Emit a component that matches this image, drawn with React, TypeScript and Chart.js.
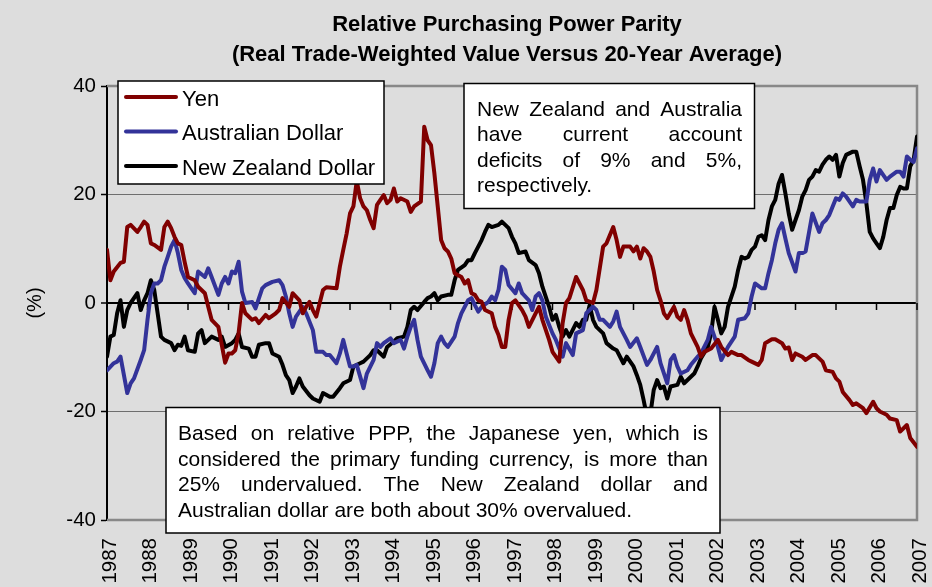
import React, { useEffect, useRef } from 'react';
import { Chart, registerables } from 'chart.js';

Chart.register(...registerables);

// ---------------- DATA ----------------
const START_YEAR = 1987;
const END_YEAR = 2007;
const Y_MIN = -40;
const Y_MAX = 40;
const Y_STEP = 20;

const seriesNames = ['Yen', 'Australian Dollar', 'New Zealand Dollar'];

// months since January 1987
const yenMonths = [0,1,2,4,5,6,7,9,10,11,12,13,14,16,17,18,19,20,21,22,23,24,26,27,29,30,31,33,35,36,37,38,39,40,41,43,44,45,47,48,50,51,52,54,55,57,58,59,60,61,62,64,65,68,69,70,71,72,73,74,75,76,77,78,79,80,81,82,83,84,85,86,87,89,90,91,93,94,95,96,97,98,99,100,101,102,103,105,106,107,108,109,110,111,112,114,115,116,117,118,119,120,121,123,124,125,127,128,129,131,132,134,135,136,137,139,141,142,144,145,147,148,150,151,152,153,155,156,157,158,159,160,161,162,163,164,165,166,168,169,170,171,172,173,175,176,177,179,181,182,184,185,187,188,190,191,193,194,195,197,198,200,201,202,203,204,206,207,209,210,212,213,215,216,217,218,220,221,222,224,225,227,228,229,231,232,234,235,237,238,240];
const yenValues = [9.8,4.2,5.8,7.4,7.6,14,14.4,13.1,14,15,14.4,11,10.7,9.8,14,15,13.8,12.2,11,10.7,7.6,4.8,4.2,3,1.8,-0.7,-3.1,-4.4,-11,-9.3,-9.3,-8.7,-5.5,0,-1.9,-3.1,-2.8,-3.7,-2.2,-2.8,-1.9,-1.3,0.9,-0.7,1.8,0.5,-1.9,-0.7,0.2,-1.3,-2.5,2.4,2.9,2.7,6.7,9.8,12.8,16.5,17.8,22.5,19.3,17.8,17.1,15.3,13.8,18.1,19,19.9,18.4,19,21.1,18.7,19.3,18.7,16.8,17.8,18.7,32.5,30,29.1,23.9,17.8,11.6,10.1,9.5,8.2,5.5,4.8,3.6,4.2,1.8,1.5,0.5,0.2,-1.3,-1.9,-4.4,-5.9,-8.1,-8.1,-3.1,0,0.5,-1.3,-2.5,-4.4,-1.9,-0.7,-3.1,-6.8,-9,-10.8,-3.7,0,0.9,4.8,2.4,0.5,0,2.4,10.4,11,14,11.6,8.5,10.4,10.4,9.5,10.4,8.2,10.1,9.5,8.5,5.8,2.4,0.5,-1.9,-2.8,-0.7,-2.5,-3.1,-1.3,-3.1,-5.6,-8.1,-9.9,-9,-8.4,-6.8,-8.1,-9.6,-9,-9.6,-9.6,-10.5,-10.8,-11.4,-10.5,-7.4,-6.7,-6.7,-7.4,-8.4,-8.2,-10.5,-9.3,-9.9,-10.5,-9.6,-9.6,-10.8,-12.4,-12.7,-13.9,-14.5,-16.4,-17.9,-18.8,-18.5,-19.4,-20.3,-18.2,-19.4,-20,-20.6,-21.3,-21.6,-23.7,-22.5,-24.9,-26.5];

const audMonths = [0,2,3,4,6,7,8,10,11,12,13,14,15,16,17,18,19,20,21,22,23,24,25,26,27,29,30,31,33,34,35,36,37,38,39,40,41,43,44,46,47,49,51,52,53,54,55,56,58,59,61,62,64,65,66,68,69,70,71,72,73,74,76,77,79,80,81,82,84,85,87,88,89,90,91,92,93,95,96,97,98,99,100,101,103,104,105,107,108,109,110,111,113,114,115,116,117,118,119,121,122,123,125,126,127,128,129,130,132,133,135,136,138,139,141,142,144,145,146,147,149,150,151,152,154,155,157,158,160,161,163,164,166,167,168,169,170,172,173,175,176,178,179,181,182,184,186,187,189,190,191,192,194,195,196,197,198,199,200,201,202,204,205,206,207,209,211,212,213,214,216,217,218,219,221,222,223,225,226,227,228,229,231,232,234,235,236,237,238,239,240];
const audValues = [-12.4,-11.1,-10.8,-9.9,-16.6,-14.8,-13.9,-10.5,-8.7,-3.1,1.8,3.6,3.6,4.2,6.7,8.5,10.4,11.6,9.2,6.1,4.6,3.6,2.7,1.8,5.8,4.8,6.4,4.8,1.5,3.6,4.8,3.6,5.8,5.5,7.6,2.1,0,0.2,-1,2.7,3.3,3.9,4.2,3.3,1.2,-1.9,-4.4,-2.5,-0.7,-1.9,-5,-9,-9,-9.6,-9.6,-11.1,-9.3,-6.8,-9.3,-11.7,-11.7,-11.4,-15.7,-13,-10.5,-7.4,-8.1,-7.4,-6.5,-7.4,-6.8,-8.4,-6.2,-4.4,-3.1,-6.8,-9.9,-12.4,-13.6,-11.1,-7.4,-6.2,-7.4,-8.1,-6.2,-3.7,-1.9,0.5,0.9,-0.4,-1.6,-0.7,0.2,1.2,0.5,2.4,6.7,6.1,3.3,1.8,3.6,1.8,0.5,-1.3,1.2,1.8,0.5,-2.5,-5.6,-6.8,-9.9,-7.4,-9.6,-5.6,-5,-1.9,-0.7,-1.3,-3.1,-3.1,-4.4,-3.4,-1.6,-4.4,-6.8,-8.1,-6.5,-8.1,-11.4,-10.5,-8.1,-11.1,-14.8,-10.5,-9.6,-11.7,-13,-12.4,-11.4,-9.9,-9.3,-6.8,-4.4,-8.1,-10.5,-8.1,-6.2,-3.1,-2.8,-1.9,1.2,3.6,2.7,2.7,5.5,7.9,11,13.5,14.7,11.9,9.2,5.8,9.2,9.2,9.5,16.5,13.1,14.7,15.3,16.2,19.3,19,20.2,19.6,17.8,19,18.7,18.7,22.7,24.8,22.4,24.5,22.7,23.3,24.2,24.2,23.3,27,26.4,26,28.5];

const nzdMonths = [0,1,2,3,4,5,6,7,9,10,11,12,13,14,15,16,17,19,20,21,22,23,24,26,27,28,29,30,31,33,34,35,37,38,39,40,42,43,44,45,47,48,49,51,52,53,54,55,56,57,58,60,61,63,64,66,67,69,70,72,73,75,76,78,79,80,82,83,85,86,88,89,90,91,92,94,95,96,97,98,99,101,102,103,104,106,107,108,109,110,111,112,113,114,116,117,119,120,121,122,124,125,127,128,129,131,132,133,134,135,136,137,139,140,141,142,143,144,145,147,148,150,151,153,154,156,157,158,159,160,161,162,163,164,165,166,167,169,170,171,172,174,175,176,178,179,180,181,182,183,184,186,187,188,189,190,191,192,193,194,195,196,197,198,199,200,201,202,203,204,205,206,207,208,209,210,211,212,213,214,215,216,217,218,219,221,222,223,224,225,226,227,228,229,230,231,232,233,234,235,236,237,238,239,240];
const nzdValues = [-9.9,-6.2,-5.9,-1.9,0.5,-4.4,-1.3,0,1.8,-1.3,0.5,1.8,4.2,2.4,-1.9,-6.2,-6.8,-7.4,-8.7,-7.7,-7.9,-6.2,-8.7,-9,-5.6,-5,-7.4,-6.8,-6.2,-6.8,-6.2,-8.1,-7.4,-6.8,-5.6,-8.1,-8.4,-9.9,-9.9,-7.7,-7.4,-7.4,-9.3,-9.9,-11.4,-13.3,-14.2,-16.6,-15.4,-13.9,-15.4,-17,-17.6,-18.2,-16.6,-17.3,-17.3,-15.7,-14.8,-14.2,-11.7,-11.1,-10.8,-9.6,-8.7,-8.7,-9.9,-8.1,-7.1,-6.5,-6.2,-4.4,-1.3,-0.7,-1.3,0.2,0.9,1.2,1.8,0.5,1.2,1.5,1.5,4.2,6.1,7,7.9,7.9,9.2,10.4,11.6,13.1,14.4,14,14.4,15,13.8,12.2,11,9.2,9.5,7.9,7,5.5,3,-0.7,-3.1,-2.2,-4.4,-6.2,-5,-6.2,-3.7,-4.4,-3.1,-3.1,-0.4,-3.1,-4.4,-5.6,-7.4,-8.4,-8.7,-11.1,-9.9,-11.7,-13.3,-15.1,-17.9,-21,-20.5,-16,-14.2,-15.7,-15.4,-17.6,-15.4,-15.1,-13.6,-14.8,-14.2,-13,-11.7,-10.2,-8.1,-5.6,-0.7,-3.1,-5.6,-4.4,-0.7,3,6.1,8.5,8.2,8.5,9.8,10.4,12.2,12.5,11.6,15.3,17.8,19,22,23.6,20.2,16.5,13.5,15.3,17.1,19.6,20.8,22.7,23.3,24.5,24.2,25.5,26.4,27,26.4,27.3,23.3,25.8,27.3,27.9,27.9,25.2,22.7,18.4,13.1,11.9,11,10.1,12.2,15.3,17.5,17.5,19.9,21.4,21.1,21.1,25.2,26.4,30.7];

const titleLines = [
  'Relative Purchasing Power Parity',
  '(Real Trade-Weighted Value Versus 20-Year Average)',
];
const yAxisLabel = '(%)';
const noteTopLines = [
  'New Zealand and Australia',
  'have current account',
  'deficits of 9% and 5%,',
  'respectively.',
];
const noteBottomLines = [
  'Based on relative PPP, the Japanese yen, which is',
  'considered the primary funding currency, is more than',
  '25% undervalued. The New Zealand dollar and',
  'Australian dollar are both about 30% overvalued.',
];

// ---------------- STYLE / LAYOUT ----------------
const W = 932;
const H = 587;
const FONT = '"Liberation Sans", Arial, Helvetica, sans-serif';
const BG = '#DDDDDD';
const COLORS = ['#800000', '#333399', '#000000'];

const LEGEND_BOX = { x: 118, y: 81, w: 266, h: 103 };
const NOTE_TOP_BOX = { x: 464, y: 83.5, w: 290.5, h: 125, textL: 477, textR: 742, base: 116, lh: 25.3 };
const NOTE_BOT_BOX = { x: 166, y: 407.5, w: 554, h: 125.5, textL: 178, textR: 708, base: 440, lh: 25.5 };

function toPoints(months: number[], values: number[]) {
  return months.map((m, i) => ({ x: START_YEAR + m / 12, y: values[i] }));
}

function drawJustified(
  ctx: CanvasRenderingContext2D,
  lines: string[],
  left: number,
  right: number,
  base: number,
  lh: number
) {
  ctx.textAlign = 'left';
  ctx.textBaseline = 'alphabetic';
  lines.forEach((line, i) => {
    const y = base + i * lh;
    const words = line.split(' ');
    if (i === lines.length - 1 || words.length < 2) {
      ctx.fillText(line, left, y);
      return;
    }
    const widths = words.map((w) => ctx.measureText(w).width);
    const total = widths.reduce((s, v) => s + v, 0);
    const gap = (right - left - total) / (words.length - 1);
    let x = left;
    words.forEach((w, k) => {
      ctx.fillText(w, x, y);
      x += widths[k] + gap;
    });
  });
}

function drawBox(ctx: CanvasRenderingContext2D, b: { x: number; y: number; w: number; h: number }) {
  ctx.fillStyle = '#FFFFFF';
  ctx.fillRect(b.x, b.y, b.w, b.h);
  ctx.strokeStyle = '#000000';
  ctx.lineWidth = 1.5;
  ctx.strokeRect(b.x, b.y, b.w, b.h);
}

const overlayPlugin = {
  id: 'overlayPlugin',
  beforeDatasetsDraw(chart: any) {
    const { ctx, chartArea: a, scales } = chart;
    ctx.save();
    // plot border (top, right, bottom)
    ctx.strokeStyle = '#888888';
    ctx.lineWidth = 2.5;
    ctx.beginPath();
    ctx.moveTo(a.left, a.top);
    ctx.lineTo(a.right, a.top);
    ctx.lineTo(a.right, a.bottom);
    ctx.lineTo(a.left, a.bottom);
    ctx.stroke();
    // tick marks along the zero line
    const y0 = scales.y.getPixelForValue(0);
    ctx.strokeStyle = '#000000';
    ctx.lineWidth = 1.5;
    ctx.beginPath();
    for (let yr = START_YEAR; yr <= END_YEAR; yr++) {
      const x = scales.x.getPixelForValue(yr);
      ctx.moveTo(x, y0);
      ctx.lineTo(x, y0 + 7);
    }
    ctx.stroke();
    ctx.restore();
  },
  afterDatasetsDraw(chart: any) {
    const { ctx } = chart;
    ctx.save();
    // legend
    drawBox(ctx, LEGEND_BOX);
    chart.data.datasets.forEach((ds: any, i: number) => {
      const rowY = LEGEND_BOX.y + 16 + i * 34.5;
      ctx.strokeStyle = ds.borderColor;
      ctx.lineWidth = 4;
      ctx.lineCap = 'round';
      ctx.beginPath();
      ctx.moveTo(LEGEND_BOX.x + 8, rowY);
      ctx.lineTo(LEGEND_BOX.x + 58, rowY);
      ctx.stroke();
      ctx.fillStyle = '#000000';
      ctx.font = `22px ${FONT}`;
      ctx.textAlign = 'left';
      ctx.textBaseline = 'alphabetic';
      ctx.fillText(ds.label, LEGEND_BOX.x + 64, rowY + 8.5);
    });
    // notes
    ctx.font = `21px ${FONT}`;
    drawBox(ctx, NOTE_TOP_BOX);
    ctx.fillStyle = '#000000';
    drawJustified(ctx, noteTopLines, NOTE_TOP_BOX.textL, NOTE_TOP_BOX.textR, NOTE_TOP_BOX.base, NOTE_TOP_BOX.lh);
    drawBox(ctx, NOTE_BOT_BOX);
    ctx.fillStyle = '#000000';
    drawJustified(ctx, noteBottomLines, NOTE_BOT_BOX.textL, NOTE_BOT_BOX.textR, NOTE_BOT_BOX.base, NOTE_BOT_BOX.lh);
    ctx.restore();
  },
  afterDraw(chart: any) {
    const { ctx, chartArea: a } = chart;
    ctx.save();
    ctx.fillStyle = '#000000';
    ctx.font = `bold 22px ${FONT}`;
    ctx.textAlign = 'center';
    ctx.textBaseline = 'alphabetic';
    ctx.fillText(titleLines[0], 507, 31);
    ctx.fillText(titleLines[1], 507, 61);
    // y axis label
    ctx.font = `20px ${FONT}`;
    ctx.translate(35, (a.top + a.bottom) / 2);
    ctx.rotate(-Math.PI / 2);
    ctx.textBaseline = 'middle';
    ctx.fillText(yAxisLabel, 0, 0);
    ctx.restore();
  },
};

export default function App() {
  const canvasRef = useRef<HTMLCanvasElement | null>(null);

  useEffect(() => {
    document.body.style.margin = '0';
    const canvas = canvasRef.current;
    if (!canvas) return;
    Chart.defaults.font.family = FONT;
    const chart = new Chart(canvas, {
      type: 'line',
      data: {
        datasets: [
          { label: seriesNames[0], data: toPoints(yenMonths, yenValues), borderColor: COLORS[0] },
          { label: seriesNames[1], data: toPoints(audMonths, audValues), borderColor: COLORS[1] },
          { label: seriesNames[2], data: toPoints(nzdMonths, nzdValues), borderColor: COLORS[2] },
        ].map((d) => ({
          ...d,
          borderWidth: 4,
          pointRadius: 0,
          pointHoverRadius: 0,
          tension: 0,
          fill: false,
          borderJoinStyle: 'round' as const,
          borderCapStyle: 'round' as const,
        })),
      },
      options: {
        animation: false,
        responsive: false,
        maintainAspectRatio: false,
        devicePixelRatio: 1,
        events: [],
        layout: { padding: { left: 0, right: 15, top: 86, bottom: 0 } },
        plugins: {
          legend: { display: false },
          title: { display: false },
          tooltip: { enabled: false },
        },
        scales: {
          x: {
            type: 'linear',
            min: START_YEAR,
            max: END_YEAR,
            ticks: {
              stepSize: 1,
              autoSkip: false,
              maxRotation: 90,
              minRotation: 90,
              color: '#000000',
              font: { size: 20.5, family: FONT },
              padding: 18,
              labelOffset: 3,
              callback: (v: any) => String(v),
            },
            grid: { display: false, drawTicks: false },
            border: { display: false },
            afterFit: (s: any) => {
              s.height = 67;
              s.paddingLeft = 0;
              s.paddingRight = 0;
            },
          },
          y: {
            min: Y_MIN,
            max: Y_MAX,
            ticks: {
              stepSize: Y_STEP,
              color: '#000000',
              font: { size: 20.5, family: FONT },
              padding: 5,
            },
            grid: {
              color: (c: any) =>
                c.tick && c.tick.value === 0
                  ? '#000000'
                  : c.tick && Math.abs(c.tick.value) === 20
                  ? '#6E6E6E'
                  : 'rgba(0,0,0,0)',
              lineWidth: (c: any) => (c.tick && c.tick.value === 0 ? 2 : 1),
              tickColor: '#000000',
              tickLength: 6,
              tickWidth: 1.5,
              drawTicks: true,
            },
            border: { display: true, color: '#000000', width: 2 },
            afterFit: (s: any) => {
              s.width = 107;
              s.paddingTop = 0;
              s.paddingBottom = 0;
            },
          },
        },
      },
      plugins: [overlayPlugin],
    });
    return () => chart.destroy();
  }, []);

  return (
    <div style={{ position: 'fixed', left: 0, top: 0, width: W, height: H, background: BG }}>
      <canvas ref={canvasRef} width={W} height={H} style={{ display: 'block', width: W, height: H }} />
    </div>
  );
}
